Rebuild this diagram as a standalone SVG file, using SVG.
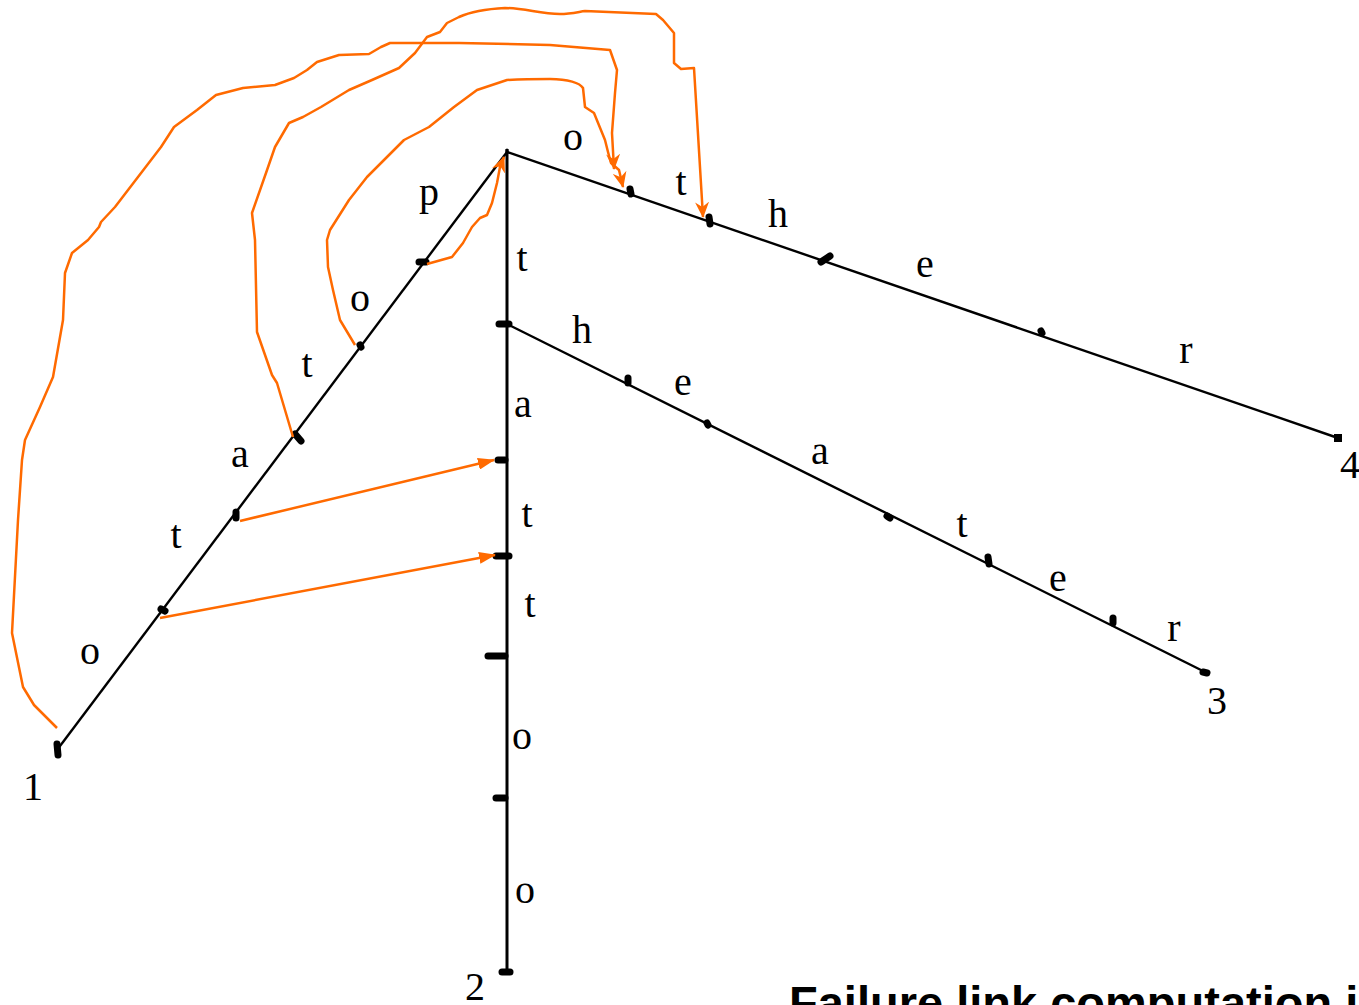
<svg xmlns="http://www.w3.org/2000/svg" width="1359" height="1005" viewBox="0 0 1359 1005">
<style>
.edge{stroke:#000;stroke-width:2.4;fill:none}
.vedge{stroke:#000;stroke-width:3;fill:none}
.mk{stroke:#000;stroke-width:7;stroke-linecap:round;fill:none}
.lbl{font-family:"Liberation Serif","Times New Roman",serif;font-size:40px;fill:#000;text-anchor:middle}
.fl{stroke:#FF6A00;stroke-width:2.5;fill:none;stroke-linejoin:round}
.title{font-family:"Liberation Sans",Arial,sans-serif;font-weight:bold;font-size:47px;fill:#000}
</style>
<defs>
<marker id="tri" viewBox="0 0 17 12" refX="16" refY="6" markerWidth="17" markerHeight="12" markerUnits="userSpaceOnUse" orient="auto">
<path d="M0,0 L17,6 L0,12 z" fill="#FF6A00"/>
</marker>
<marker id="barb" viewBox="0 0 16 14" refX="15" refY="7" markerWidth="16" markerHeight="14" markerUnits="userSpaceOnUse" orient="auto">
<path d="M0,0 L16,7 L0,14 L5,7 z" fill="#FF6A00"/>
</marker>
</defs>
<g id="edges">
<line class="edge" x1="507" y1="152" x2="57" y2="750"/>
<line class="vedge" x1="507" y1="149" x2="507" y2="973"/>
<line class="edge" x1="507" y1="152" x2="1338" y2="438"/>
<line class="edge" x1="507" y1="324" x2="1205" y2="672"/>
</g>
<g id="nodes">
<g id="n-root"><line class="mk" x1="507" y1="150" x2="507" y2="152" style="stroke-width:3"/></g>
<g id="n-p"><line class="mk" x1="419" y1="262" x2="426" y2="262"/></g>
<g id="n-po"><line class="mk" x1="360" y1="345" x2="361" y2="347"/></g>
<g id="n-pot"><line class="mk" x1="295" y1="434" x2="301" y2="441"/></g>
<g id="n-pota"><line class="mk" x1="236" y1="512" x2="236" y2="518"/></g>
<g id="n-potat"><line class="mk" x1="161" y1="609" x2="165" y2="611"/></g>
<g id="n-1"><line class="mk" x1="57" y1="744" x2="58" y2="755"/><text class="lbl" x="33" y="800">1</text></g>
<g id="n-t"><line class="mk" x1="499" y1="324" x2="509" y2="324"/></g>
<g id="n-ta"><line class="mk" x1="498" y1="460" x2="505" y2="460"/></g>
<g id="n-tat"><line class="mk" x1="496" y1="556" x2="509" y2="556"/></g>
<g id="n-tatt"><line class="mk" x1="488" y1="656" x2="505" y2="656"/></g>
<g id="n-tatto"><line class="mk" x1="496" y1="798" x2="505" y2="798"/></g>
<g id="n-2"><line class="mk" x1="502" y1="972" x2="510" y2="972"/><text class="lbl" x="475" y="1000">2</text></g>
<g id="n-o"><line class="mk" x1="630" y1="189" x2="631" y2="194"/></g>
<g id="n-ot"><line class="mk" x1="709" y1="217" x2="710" y2="224"/></g>
<g id="n-oth"><line class="mk" x1="821" y1="262" x2="830" y2="256"/></g>
<g id="n-othe"><line class="mk" x1="1041" y1="331" x2="1042" y2="333"/></g>
<g id="n-4"><rect x="1334" y="434" width="8" height="8" fill="#000"/><text class="lbl" x="1350" y="478">4</text></g>
<g id="n-th"><line class="mk" x1="628" y1="378" x2="628" y2="383"/></g>
<g id="n-the"><line class="mk" x1="707" y1="423" x2="708" y2="425"/></g>
<g id="n-thea"><line class="mk" x1="887" y1="516" x2="890" y2="518"/></g>
<g id="n-theat"><line class="mk" x1="988" y1="557" x2="989" y2="564"/></g>
<g id="n-theate"><line class="mk" x1="1113" y1="618" x2="1113" y2="623"/></g>
<g id="n-3"><line class="mk" x1="1203" y1="672" x2="1207" y2="673"/><text class="lbl" x="1217" y="714">3</text></g>
</g>
<g id="labels">
<text class="lbl" x="429" y="205">p</text>
<text class="lbl" x="360" y="311">o</text>
<text class="lbl" x="307" y="377">t</text>
<text class="lbl" x="240" y="467">a</text>
<text class="lbl" x="176" y="548">t</text>
<text class="lbl" x="90" y="664">o</text>
<text class="lbl" x="522" y="271">t</text>
<text class="lbl" x="523" y="417">a</text>
<text class="lbl" x="527" y="527">t</text>
<text class="lbl" x="530" y="617">t</text>
<text class="lbl" x="522" y="749">o</text>
<text class="lbl" x="525" y="903">o</text>
<text class="lbl" x="573" y="150">o</text>
<text class="lbl" x="681" y="195">t</text>
<text class="lbl" x="778" y="227">h</text>
<text class="lbl" x="925" y="277">e</text>
<text class="lbl" x="1186" y="363">r</text>
<text class="lbl" x="582" y="343">h</text>
<text class="lbl" x="683" y="395">e</text>
<text class="lbl" x="820" y="464">a</text>
<text class="lbl" x="962" y="537">t</text>
<text class="lbl" x="1058" y="591">e</text>
<text class="lbl" x="1174" y="641">r</text>
</g>
<g id="failure-links">
<path class="fl" marker-end="url(#tri)" d="M240,521 L494,460"/>
<path class="fl" marker-end="url(#tri)" d="M160,618 L495,555"/>
<path class="fl" marker-end="url(#barb)" d="M427,264 L452,257 L463,243 L472,227 L480,218 L487,215 L492,203 L497,183 L500,167 L504,157"/>
<path class="fl" marker-end="url(#barb)" d="M355,345 L340,320 L333,290 L328,267 L327,240 L330,230 L349,200 L367,177 L381,163 L404,140 L429,127 L454,107 L477,90 L507,80 C525,79 540,79 550,79 C568,79 580,83 583,88 L585,107 L594,113 L605,140 L608,152 L611,163 L619,170 L623,187"/>
<path class="fl" marker-end="url(#barb)" d="M293,437 L277,383 L272,375 L257,332 L255,240 L252,213 L266,173 L275,147 L289,123 L303,117 L321,107 L349,90 L372,80 L399,68 L415,53 L427,37 L440,32 L447,23 L459,17 C470,12 485,9 505,8 C525,8 540,14 560,14 C570,14 578,12 585,11 L656,14 L663,20 L674,33 L674,63 L681,69 L694,68 L703,217"/>
<path class="fl" marker-end="url(#barb)" d="M57,728 L34,705 L23,687 L12,633 L18,520 L22,460 L25,440 L40,407 L53,377 L63,320 L65,273 L72,253 L88,240 L99,227 L101,222 L115,207 L138,177 L161,147 L174,127 L197,110 L216,95 L243,88 L275,85 L294,78 L307,70 L317,62 L339,55 L369,54 L381,47 L390,43 L459,43 L550,45 L610,50 L617,70 L615,93 L612,133 L614,169"/>
</g>
<text class="title" x="789" y="1019">Failure link computation is</text>
</svg>
